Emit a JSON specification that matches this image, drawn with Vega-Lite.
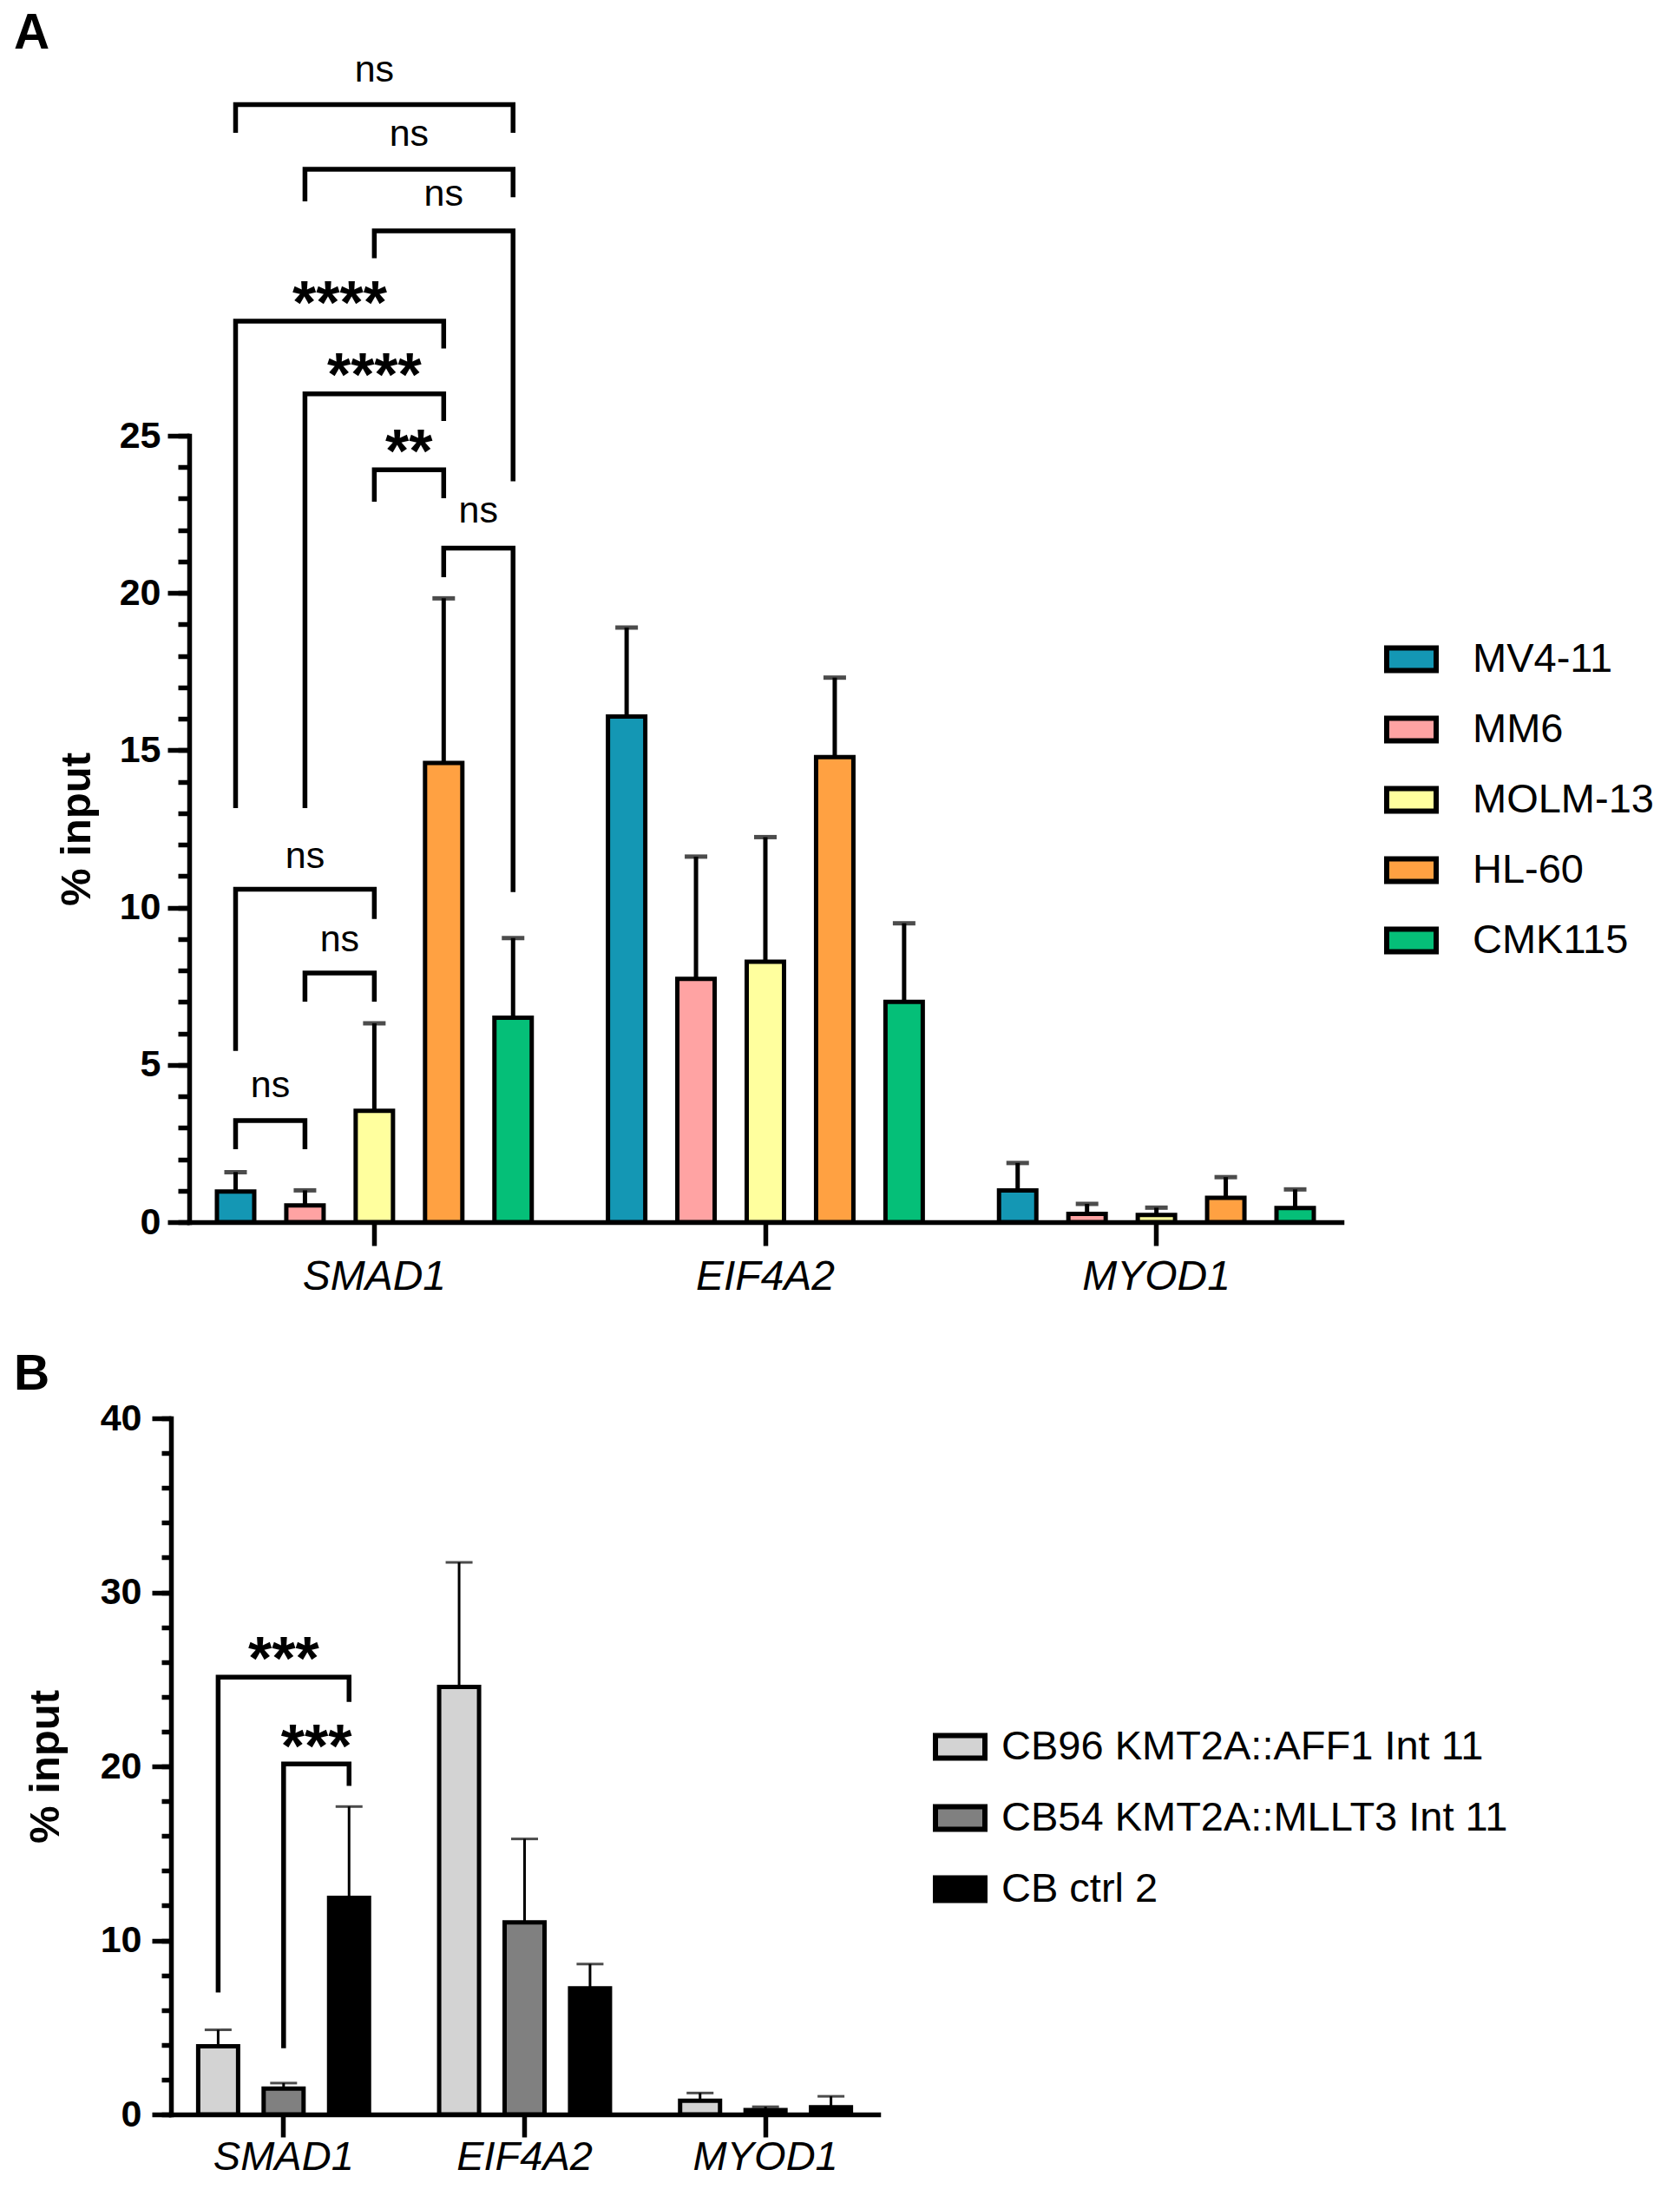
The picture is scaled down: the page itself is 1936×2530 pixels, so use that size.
{
  "$schema": "https://vega.github.io/schema/vega-lite/v6.json",
  "padding": {"left": 15, "top": 9, "right": 10, "bottom": 10},
  "config": {
    "font": "Liberation Sans",
    "view": {"stroke": null},
    "axis": {"domainColor": "black", "tickColor": "black", "labelColor": "black", "titleColor": "black", "grid": false, "domainCap": "square"},
    "legend": {"labelColor": "black", "labelLimit": 900},
    "title": {"color": "black"}
  },
  "datasets": {
    "barsA": [
      {"gene": "SMAD1", "c": "MV4-11", "y": 0.97, "hi": 1.59},
      {"gene": "SMAD1", "c": "MM6", "y": 0.53, "hi": 1.01},
      {"gene": "SMAD1", "c": "MOLM-13", "y": 3.54, "hi": 6.32},
      {"gene": "SMAD1", "c": "HL-60", "y": 14.6, "hi": 19.83},
      {"gene": "SMAD1", "c": "CMK115", "y": 6.5, "hi": 9.03},
      {"gene": "EIF4A2", "c": "MV4-11", "y": 16.07, "hi": 18.9},
      {"gene": "EIF4A2", "c": "MM6", "y": 7.73, "hi": 11.62},
      {"gene": "EIF4A2", "c": "MOLM-13", "y": 8.28, "hi": 12.24},
      {"gene": "EIF4A2", "c": "HL-60", "y": 14.78, "hi": 17.31},
      {"gene": "EIF4A2", "c": "CMK115", "y": 7.0, "hi": 9.5},
      {"gene": "MYOD1", "c": "MV4-11", "y": 1.01, "hi": 1.88},
      {"gene": "MYOD1", "c": "MM6", "y": 0.26, "hi": 0.58},
      {"gene": "MYOD1", "c": "MOLM-13", "y": 0.23, "hi": 0.46},
      {"gene": "MYOD1", "c": "HL-60", "y": 0.77, "hi": 1.43},
      {"gene": "MYOD1", "c": "CMK115", "y": 0.45, "hi": 1.04}
    ],
    "brA": [
      {"b": 1, "k": 1, "gene": "SMAD1", "c": "MV4-11", "y": 34.63},
      {"b": 1, "k": 2, "gene": "SMAD1", "c": "MV4-11", "y": 35.53},
      {"b": 1, "k": 3, "gene": "SMAD1", "c": "CMK115", "y": 35.53},
      {"b": 1, "k": 4, "gene": "SMAD1", "c": "CMK115", "y": 34.63},
      {"b": 2, "k": 1, "gene": "SMAD1", "c": "MM6", "y": 32.45},
      {"b": 2, "k": 2, "gene": "SMAD1", "c": "MM6", "y": 33.47},
      {"b": 2, "k": 3, "gene": "SMAD1", "c": "CMK115", "y": 33.47},
      {"b": 2, "k": 4, "gene": "SMAD1", "c": "CMK115", "y": 32.58},
      {"b": 3, "k": 1, "gene": "SMAD1", "c": "MOLM-13", "y": 30.64},
      {"b": 3, "k": 2, "gene": "SMAD1", "c": "MOLM-13", "y": 31.51},
      {"b": 3, "k": 3, "gene": "SMAD1", "c": "CMK115", "y": 31.51},
      {"b": 3, "k": 4, "gene": "SMAD1", "c": "CMK115", "y": 23.55},
      {"b": 4, "k": 1, "gene": "SMAD1", "c": "MV4-11", "y": 13.16},
      {"b": 4, "k": 2, "gene": "SMAD1", "c": "MV4-11", "y": 28.64},
      {"b": 4, "k": 3, "gene": "SMAD1", "c": "HL-60", "y": 28.64},
      {"b": 4, "k": 4, "gene": "SMAD1", "c": "HL-60", "y": 27.77},
      {"b": 5, "k": 1, "gene": "SMAD1", "c": "MM6", "y": 13.16},
      {"b": 5, "k": 2, "gene": "SMAD1", "c": "MM6", "y": 26.33},
      {"b": 5, "k": 3, "gene": "SMAD1", "c": "HL-60", "y": 26.33},
      {"b": 5, "k": 4, "gene": "SMAD1", "c": "HL-60", "y": 25.47},
      {"b": 6, "k": 1, "gene": "SMAD1", "c": "MOLM-13", "y": 22.9},
      {"b": 6, "k": 2, "gene": "SMAD1", "c": "MOLM-13", "y": 23.92},
      {"b": 6, "k": 3, "gene": "SMAD1", "c": "HL-60", "y": 23.92},
      {"b": 6, "k": 4, "gene": "SMAD1", "c": "HL-60", "y": 23.01},
      {"b": 7, "k": 1, "gene": "SMAD1", "c": "HL-60", "y": 20.5},
      {"b": 7, "k": 2, "gene": "SMAD1", "c": "HL-60", "y": 21.43},
      {"b": 7, "k": 3, "gene": "SMAD1", "c": "CMK115", "y": 21.43},
      {"b": 7, "k": 4, "gene": "SMAD1", "c": "CMK115", "y": 10.49},
      {"b": 8, "k": 1, "gene": "SMAD1", "c": "MV4-11", "y": 5.44},
      {"b": 8, "k": 2, "gene": "SMAD1", "c": "MV4-11", "y": 10.58},
      {"b": 8, "k": 3, "gene": "SMAD1", "c": "MOLM-13", "y": 10.58},
      {"b": 8, "k": 4, "gene": "SMAD1", "c": "MOLM-13", "y": 9.64},
      {"b": 9, "k": 1, "gene": "SMAD1", "c": "MM6", "y": 7.01},
      {"b": 9, "k": 2, "gene": "SMAD1", "c": "MM6", "y": 7.92},
      {"b": 9, "k": 3, "gene": "SMAD1", "c": "MOLM-13", "y": 7.92},
      {"b": 9, "k": 4, "gene": "SMAD1", "c": "MOLM-13", "y": 7.01},
      {"b": 10, "k": 1, "gene": "SMAD1", "c": "MV4-11", "y": 2.32},
      {"b": 10, "k": 2, "gene": "SMAD1", "c": "MV4-11", "y": 3.23},
      {"b": 10, "k": 3, "gene": "SMAD1", "c": "MM6", "y": 3.23},
      {"b": 10, "k": 4, "gene": "SMAD1", "c": "MM6", "y": 2.32}
    ],
    "labA": [
      {"gene": "SMAD1", "c": "MOLM-13", "y": 36.27, "t": "ns"},
      {"gene": "SMAD1", "c": "m3", "y": 34.22, "t": "ns"},
      {"gene": "SMAD1", "c": "HL-60", "y": 32.31, "t": "ns"},
      {"gene": "SMAD1", "c": "m2", "y": 28.56, "t": "****"},
      {"gene": "SMAD1", "c": "MOLM-13", "y": 26.27, "t": "****"},
      {"gene": "SMAD1", "c": "m3", "y": 23.84, "t": "**"},
      {"gene": "SMAD1", "c": "m4", "y": 22.23, "t": "ns"},
      {"gene": "SMAD1", "c": "MM6", "y": 11.27, "t": "ns"},
      {"gene": "SMAD1", "c": "m2", "y": 8.62, "t": "ns"},
      {"gene": "SMAD1", "c": "m1", "y": 3.98, "t": "ns"}
    ],
    "barsB": [
      {"gene": "SMAD1", "c": "CB96 KMT2A::AFF1 Int 11", "y": 3.91, "hi": 4.86},
      {"gene": "SMAD1", "c": "CB54 KMT2A::MLLT3 Int 11", "y": 1.48, "hi": 1.8},
      {"gene": "SMAD1", "c": "CB ctrl 2", "y": 12.45, "hi": 17.69},
      {"gene": "EIF4A2", "c": "CB96 KMT2A::AFF1 Int 11", "y": 24.56, "hi": 31.72},
      {"gene": "EIF4A2", "c": "CB54 KMT2A::MLLT3 Int 11", "y": 11.03, "hi": 15.83},
      {"gene": "EIF4A2", "c": "CB ctrl 2", "y": 7.25, "hi": 8.64},
      {"gene": "MYOD1", "c": "CB96 KMT2A::AFF1 Int 11", "y": 0.79, "hi": 1.23},
      {"gene": "MYOD1", "c": "CB54 KMT2A::MLLT3 Int 11", "y": 0.25, "hi": 0.44},
      {"gene": "MYOD1", "c": "CB ctrl 2", "y": 0.41, "hi": 1.04}
    ],
    "brB": [
      {"b": 1, "k": 1, "gene": "SMAD1", "c": "CB96 KMT2A::AFF1 Int 11", "y": 7.01},
      {"b": 1, "k": 2, "gene": "SMAD1", "c": "CB96 KMT2A::AFF1 Int 11", "y": 25.12},
      {"b": 1, "k": 3, "gene": "SMAD1", "c": "CB ctrl 2", "y": 25.12},
      {"b": 1, "k": 4, "gene": "SMAD1", "c": "CB ctrl 2", "y": 23.7},
      {"b": 2, "k": 1, "gene": "SMAD1", "c": "CB54 KMT2A::MLLT3 Int 11", "y": 3.8},
      {"b": 2, "k": 2, "gene": "SMAD1", "c": "CB54 KMT2A::MLLT3 Int 11", "y": 20.14},
      {"b": 2, "k": 3, "gene": "SMAD1", "c": "CB ctrl 2", "y": 20.14},
      {"b": 2, "k": 4, "gene": "SMAD1", "c": "CB ctrl 2", "y": 18.88}
    ],
    "labB": [
      {"gene": "SMAD1", "c": "CB54 KMT2A::MLLT3 Int 11", "y": 24.99, "t": "***"},
      {"gene": "SMAD1", "c": "m2", "y": 19.95, "t": "***"}
    ],
    "blank": [{"v": 0}]
  },
  "spacing": 60,
  "resolve": {
    "scale": {"x": "independent", "y": "independent", "xOffset": "independent", "color": "independent"},
    "legend": {"color": "independent"}
  },
  "vconcat": [
    {
      "spacing": 0,
      "resolve": {"scale": {"color": "independent"}, "legend": {"color": "independent"}},
      "hconcat": [
        {"width": 1, "height": 1, "data": {"name": "blank"}, "mark": {"type": "point", "opacity": 0, "size": 0, "strokeWidth": 0}, "encoding": {}},
        {
          "width": 1328,
          "height": 906,
          "title": {"text": "A", "anchor": "start", "frame": "group", "fontSize": 57, "fontWeight": "bold", "baseline": "alphabetic", "offset": 0, "dx": -202, "dy": 53},
          "resolve": {"axis": {"y": "independent"}},
          "layer": [
            {
              "encoding": {
                "x": {"field": "gene", "type": "nominal",
                  "scale": {"domain": ["SMAD1", "EIF4A2", "MYOD1"], "paddingInner": 0.113, "paddingOuter": 0.03},
                  "axis": {"title": null, "labelAngle": 0, "labelFontSize": 48, "labelFontStyle": "italic", "labelPadding": 12, "tickSize": 27, "tickWidth": 5.5, "domainWidth": 5.5}},
                "xOffset": {"field": "c", "type": "nominal",
                  "scale": {"domain": ["MV4-11", "m1", "MM6", "m2", "MOLM-13", "m3", "HL-60", "m4", "CMK115"], "paddingInner": 0, "paddingOuter": 0.5}},
                "y": {"field": "y", "type": "quantitative", "stack": null,
                  "scale": {"domain": [0, 25], "nice": false},
                  "axis": {"orient": "left", "values": [0, 5, 10, 15, 20, 25], "tickSize": 25, "tickWidth": 5.5, "domainWidth": 5.5,
                    "labelFontSize": 43, "labelFontWeight": "bold", "labelPadding": 8,
                    "title": "% input", "titleFontSize": 49, "titleFontWeight": "bold", "titlePadding": 24}}
              },
              "layer": [
                {
                  "data": {"name": "barsA"},
                  "mark": {"type": "bar", "width": 43, "stroke": "black", "strokeWidth": 5},
                  "encoding": {
                    "color": {"field": "c", "type": "nominal",
                      "scale": {"domain": ["MV4-11", "MM6", "MOLM-13", "HL-60", "CMK115"], "range": ["#1497b4", "#ffa3a3", "#ffff9e", "#ffa142", "#05bf78"]},
                      "legend": {"title": null, "orient": "none", "legendX": 1377, "legendY": 226, "padding": 0,
                        "symbolType": "M-1,-0.46H1V0.46H-1Z", "symbolSize": 3249, "symbolStrokeColor": "black", "symbolStrokeWidth": 6, "symbolOpacity": 1,
                        "labelFontSize": 47, "labelOffset": 39, "rowPadding": 24}}
                  }
                },
                {
                  "data": {"name": "barsA"},
                  "mark": {"type": "rule", "color": "black", "strokeWidth": 5},
                  "encoding": {"y2": {"field": "hi"}}
                },
                {
                  "data": {"name": "barsA"},
                  "mark": {"type": "tick", "orient": "horizontal", "color": "black", "size": 26, "thickness": 5},
                  "encoding": {"y": {"field": "hi", "type": "quantitative"}}
                },
                {
                  "data": {"name": "brA"},
                  "mark": {"type": "line", "color": "black", "strokeWidth": 5.5, "strokeJoin": "miter", "strokeCap": "butt"},
                  "encoding": {"detail": {"field": "b", "type": "nominal"}, "order": {"field": "k", "type": "quantitative"}}
                },
                {
                  "data": {"name": "labA"},
                  "transform": [{"filter": "datum.t === 'ns'"}],
                  "mark": {"type": "text", "fontSize": 43, "baseline": "alphabetic", "color": "black"},
                  "encoding": {"text": {"field": "t"}}
                },
                {
                  "data": {"name": "labA"},
                  "transform": [{"filter": "datum.t !== 'ns'"}],
                  "mark": {"type": "text", "fontSize": 70, "fontWeight": "bold", "baseline": "alphabetic", "color": "black"},
                  "encoding": {"text": {"field": "t"}}
                }
              ]
            },
            {
              "data": {"name": "barsA"},
              "mark": {"type": "point", "opacity": 0},
              "encoding": {
                "y": {"field": "y", "type": "quantitative", "scale": {"domain": [0, 25], "nice": false},
                  "axis": {"orient": "left", "values": [0, 1, 2, 3, 4, 5, 6, 7, 8, 9, 10, 11, 12, 13, 14, 15, 16, 17, 18, 19, 20, 21, 22, 23, 24, 25],
                    "labels": false, "domain": false, "tickSize": 13, "tickWidth": 5.5, "title": null}}
              }
            }
          ]
        }
      ]
    },
    {
      "spacing": 0,
      "resolve": {"scale": {"color": "independent"}, "legend": {"color": "independent"}},
      "hconcat": [
        {"width": 1, "height": 1, "data": {"name": "blank"}, "mark": {"type": "point", "opacity": 0, "size": 0, "strokeWidth": 0}, "encoding": {}},
        {
          "width": 815,
          "height": 802,
          "title": {"text": "B", "anchor": "start", "frame": "group", "fontSize": 57, "fontWeight": "bold", "baseline": "alphabetic", "offset": 0, "dx": -181, "dy": 45},
          "resolve": {"axis": {"y": "independent"}},
          "layer": [
            {
              "encoding": {
                "x": {"field": "gene", "type": "nominal",
                  "scale": {"domain": ["SMAD1", "EIF4A2", "MYOD1"], "paddingInner": 0.185, "paddingOuter": 0.06},
                  "axis": {"title": null, "labelAngle": 0, "labelFontSize": 47, "labelFontStyle": "italic", "labelPadding": 0, "tickSize": 26, "tickWidth": 5.5, "domainWidth": 5.5}},
                "xOffset": {"field": "c", "type": "nominal",
                  "scale": {"domain": ["CB96 KMT2A::AFF1 Int 11", "m1", "CB54 KMT2A::MLLT3 Int 11", "m2", "CB ctrl 2"], "paddingInner": 0, "paddingOuter": 0.5}},
                "y": {"field": "y", "type": "quantitative", "stack": null,
                  "scale": {"domain": [0, 40], "nice": false},
                  "axis": {"orient": "left", "values": [0, 10, 20, 30, 40], "tickSize": 22, "tickWidth": 5.5, "domainWidth": 5.5,
                    "labelFontSize": 43, "labelFontWeight": "bold", "labelPadding": 12,
                    "title": "% input", "titleFontSize": 49, "titleFontWeight": "bold", "titlePadding": 38}}
              },
              "layer": [
                {
                  "data": {"name": "barsB"},
                  "mark": {"type": "bar", "width": 46, "stroke": "black", "strokeWidth": 5},
                  "encoding": {
                    "color": {"field": "c", "type": "nominal",
                      "scale": {"domain": ["CB96 KMT2A::AFF1 Int 11", "CB54 KMT2A::MLLT3 Int 11", "CB ctrl 2"], "range": ["#d3d3d3", "#808080", "#000000"]},
                      "legend": {"title": null, "orient": "none", "legendX": 878, "legendY": 347, "padding": 0,
                        "symbolType": "M-1,-0.46H1V0.46H-1Z", "symbolSize": 3249, "symbolStrokeColor": "black", "symbolStrokeWidth": 6, "symbolOpacity": 1,
                        "labelFontSize": 47, "labelOffset": 16, "rowPadding": 25}}
                  }
                },
                {
                  "data": {"name": "barsB"},
                  "mark": {"type": "rule", "color": "black", "strokeWidth": 3},
                  "encoding": {"y2": {"field": "hi"}}
                },
                {
                  "data": {"name": "barsB"},
                  "mark": {"type": "tick", "orient": "horizontal", "color": "black", "size": 31, "thickness": 3},
                  "encoding": {"y": {"field": "hi", "type": "quantitative"}}
                },
                {
                  "data": {"name": "brB"},
                  "mark": {"type": "line", "color": "black", "strokeWidth": 5.5, "strokeJoin": "miter", "strokeCap": "butt"},
                  "encoding": {"detail": {"field": "b", "type": "nominal"}, "order": {"field": "k", "type": "quantitative"}}
                },
                {
                  "data": {"name": "labB"},
                  "mark": {"type": "text", "fontSize": 70, "fontWeight": "bold", "baseline": "alphabetic", "color": "black"},
                  "encoding": {"text": {"field": "t"}}
                }
              ]
            },
            {
              "data": {"name": "barsB"},
              "mark": {"type": "point", "opacity": 0},
              "encoding": {
                "y": {"field": "y", "type": "quantitative", "scale": {"domain": [0, 40], "nice": false},
                  "axis": {"orient": "left", "values": [0, 2, 4, 6, 8, 10, 12, 14, 16, 18, 20, 22, 24, 26, 28, 30, 32, 34, 36, 38, 40],
                    "labels": false, "domain": false, "tickSize": 11, "tickWidth": 5.5, "title": null}}
              }
            }
          ]
        }
      ]
    }
  ]
}
